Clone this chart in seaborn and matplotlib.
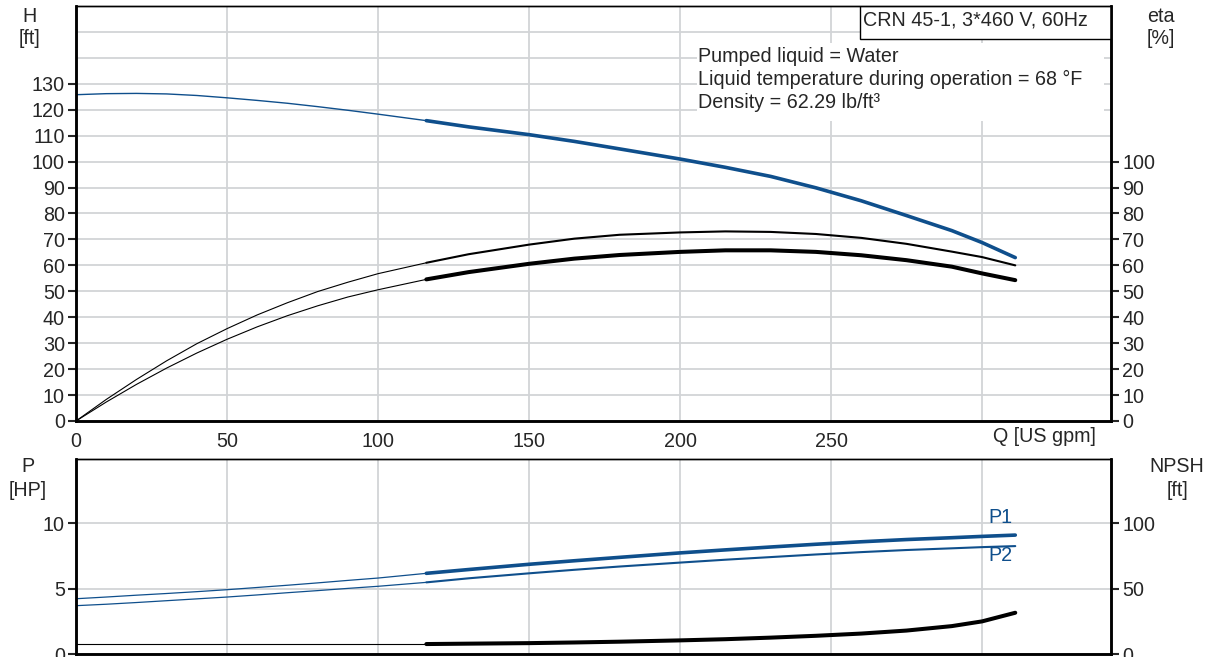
import matplotlib
matplotlib.use("Agg")
import matplotlib.pyplot as plt
import seaborn as sns
import pandas as pd
from matplotlib.patches import Rectangle

# flow points [US gpm]
q = [0, 10, 20, 30, 40, 50, 60, 70, 80, 90, 100, 116, 130, 150, 165, 180, 200,
     215, 230, 245, 260, 275, 290, 300, 311]

# head H [ft]
head = [125.8, 126.2, 126.3, 126.1, 125.5, 124.6, 123.6, 122.5, 121.2, 119.8, 118.3,
        115.8, 113.4, 110.4, 107.8, 104.9, 101.0, 97.8, 94.3, 89.9, 84.9, 79.2,
        73.4, 68.8, 63.0]
# efficiencies eta [%]
eta_upper = [0, 8.3, 16.0, 23.2, 29.8, 35.6, 40.9, 45.6, 49.9, 53.5, 56.8, 61.0,
             64.3, 68.0, 70.3, 71.8, 72.7, 73.1, 72.9, 72.1, 70.6, 68.3, 65.3,
             63.2, 60.0]
eta_lower = [0, 7.3, 14.1, 20.4, 26.2, 31.5, 36.3, 40.6, 44.4, 47.8, 50.6, 54.6,
             57.4, 60.6, 62.6, 64.0, 65.2, 65.8, 65.8, 65.2, 63.9, 62.0, 59.5,
             56.9, 54.3]
# power P [HP]
p1 = [4.22, 4.35, 4.49, 4.62, 4.76, 4.91, 5.08, 5.25, 5.43, 5.62, 5.80, 6.16,
      6.45, 6.85, 7.12, 7.38, 7.72, 7.95, 8.17, 8.38, 8.57, 8.74, 8.88, 8.98, 9.08]
p2 = [3.69, 3.80, 3.93, 4.07, 4.21, 4.35, 4.51, 4.68, 4.84, 5.01, 5.17, 5.47,
      5.78, 6.16, 6.43, 6.68, 6.98, 7.20, 7.40, 7.60, 7.78, 7.94, 8.07, 8.16, 8.24]
# NPSH [ft]
npsh = [7.6, 7.6, 7.6, 7.6, 7.6, 7.6, 7.6, 7.6, 7.6, 7.6, 7.6, 7.6,
        7.9, 8.3, 8.8, 9.4, 10.4, 11.3, 12.5, 13.9, 15.6, 17.9, 21.3, 24.9, 31.5]

duty_start = 116

x_ticks = [0, 50, 100, 150, 200, 250, 300]
x_labels = ["0", "50", "100", "150", "200", "250", ""]
h_ticks = list(range(0, 160, 10))
eta_ticks = list(range(0, 110, 10))
p_ticks = [0, 5, 10]
npsh_ticks = [0, 50, 100]

title = "CRN 45-1, 3*460 V, 60Hz"
info_lines = ["Pumped liquid = Water",
              "Liquid temperature during operation = 68 \u00b0F",
              "Density = 62.29 lb/ft\u00b3"]

sns.set_style("white")
plt.rcParams["font.family"] = ["Liberation Sans", "DejaVu Sans"]

BLUE = "#0f4f8c"
GRID = "#d2d4d7"
FS = 14.2

df = pd.DataFrame({"q": q, "head": head, "eta_u": eta_upper, "eta_l": eta_lower,
                   "p1": p1, "p2": p2, "npsh": npsh})
pre = df[df.q <= duty_start]
duty = df[df.q >= duty_start]

fig = plt.figure(figsize=(12.07, 6.57), dpi=100)
ax = fig.add_axes([0.06297, 0.35921, 0.8575, 0.63166])
ax_eta = ax.twinx()
bx = fig.add_axes([0.06297, 0.004566, 0.8575, 0.29680])
bx_npsh = bx.twinx()


def curve(axis, data, col, color, lw):
    sns.lineplot(data=data, x="q", y=col, ax=axis, color=color, linewidth=lw,
                 estimator=None, sort=False, legend=False)


curve(ax, pre, "head", BLUE, 1.0)
curve(ax, duty, "head", BLUE, 2.6)
curve(ax_eta, pre, "eta_u", "black", 0.8)
curve(ax_eta, duty, "eta_u", "black", 1.5)
curve(ax_eta, pre, "eta_l", "black", 0.8)
curve(ax_eta, duty, "eta_l", "black", 2.9)

curve(bx, pre, "p1", BLUE, 0.9)
curve(bx, duty, "p1", BLUE, 2.6)
curve(bx, pre, "p2", BLUE, 0.9)
curve(bx, duty, "p2", BLUE, 1.5)
curve(bx_npsh, pre, "npsh", "black", 0.8)
curve(bx_npsh, duty, "npsh", "black", 2.9)

for a in (ax, ax_eta, bx, bx_npsh):
    a.set_xlim(0, 342.7)
    a.set_xlabel("")
    a.set_ylabel("")
    a.tick_params(direction="out", length=6, width=1.5, labelsize=FS, pad=2)

ax.set_ylim(0, 160)
ax_eta.set_ylim(0, 160)
bx.set_ylim(0, 14.89)
bx_npsh.set_ylim(0, 148.9)

ax.set_xticks(x_ticks)
ax.set_xticklabels(x_labels)
ax.set_yticks(h_ticks)
ax.set_yticklabels([str(v) if v <= 130 else "" for v in h_ticks])
for t, v in zip(ax.yaxis.get_major_ticks(), h_ticks):
    if v > 130:
        t.tick1line.set_visible(False)
ax_eta.set_yticks(eta_ticks)
bx.set_xticks(x_ticks)
bx.set_xticklabels([])
bx.set_yticks(p_ticks)
bx_npsh.set_yticks(npsh_ticks)

for a in (ax, bx):
    a.set_axisbelow(True)
    a.grid(True, color=GRID, linewidth=1.3)
for a in (ax_eta, bx_npsh):
    a.grid(False)

for a in (ax, ax_eta, bx, bx_npsh):
    for side in ("left", "bottom", "right"):
        a.spines[side].set_linewidth(1.8)
        a.spines[side].set_color("black")
    a.spines["top"].set_linewidth(1.0)
    a.spines["top"].set_color("black")

# info boxes
ax.add_patch(Rectangle((0.600, 0.722), 0.393, 0.19, transform=ax.transAxes,
                       facecolor="white", edgecolor="none", zorder=1))
ax.add_patch(Rectangle((0.7575, 0.9205), 0.2425, 0.0795, transform=ax.transAxes,
                       facecolor="white", edgecolor="black", linewidth=1.0, zorder=3))
fig.text(863 / 1207, 1 - 20 / 657, title, fontsize=FS, va="center", ha="left", zorder=5)
for i, line in enumerate(info_lines):
    fig.text(698 / 1207, 1 - (56 + 23 * i) / 657, line, fontsize=FS, va="center", ha="left")

# axis titles
fig.text(30 / 1207, 1 - 17 / 657, "H", fontsize=FS, ha="center", va="center")
fig.text(30 / 1207, 1 - 38 / 657, "[ft]", fontsize=FS, ha="center", va="center")
fig.text(1161 / 1207, 1 - 16 / 657, "eta", fontsize=FS, ha="center", va="center")
fig.text(1161 / 1207, 1 - 38 / 657, "[%]", fontsize=FS, ha="center", va="center")
fig.text(28 / 1207, 1 - 467 / 657, "P", fontsize=FS, ha="center", va="center")
fig.text(28 / 1207, 1 - 490 / 657, "[HP]", fontsize=FS, ha="center", va="center")
fig.text(1177 / 1207, 1 - 467 / 657, "NPSH", fontsize=FS, ha="center", va="center")
fig.text(1177 / 1207, 1 - 490 / 657, "[ft]", fontsize=FS, ha="center", va="center")
fig.text(993 / 1207, 1 - 437 / 657, "Q [US gpm]", fontsize=FS, ha="left", va="center")

# curve labels
bx.text(306, 10.4, "P1", color=BLUE, fontsize=FS, ha="center", va="center")
bx.text(306, 7.5, "P2", color=BLUE, fontsize=FS, ha="center", va="center")

fig.savefig("out.png", dpi=100)
